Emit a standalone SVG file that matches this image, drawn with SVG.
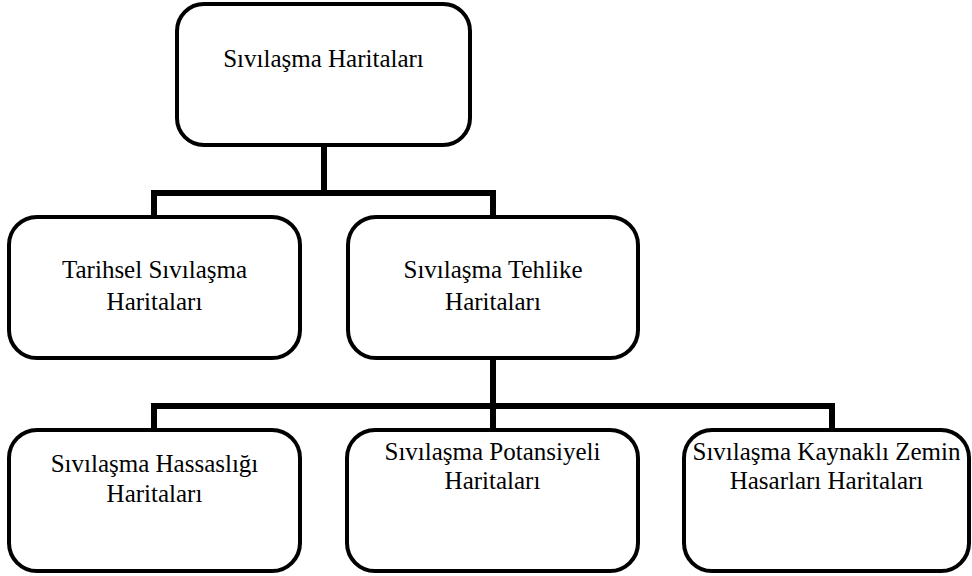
<svg xmlns="http://www.w3.org/2000/svg" width="972" height="576" viewBox="0 0 972 576">
<style>
.box{fill:#fff;stroke:#000;stroke-width:4}
.lbl{font-family:"Liberation Serif","Times New Roman",serif;font-size:25px;fill:#000;text-anchor:middle}
.conn{fill:none;stroke:#000;stroke-width:6;stroke-linejoin:miter;stroke-linecap:square}
</style>
<rect width="972" height="576" fill="#fff"/>
<g id="connectors">
<path class="conn" d="M324,147 V193 M154,216 V193 H493 V216"/>
<path class="conn" d="M493,360 V406 M154,429 V406 H832 V429 M493,406 V429"/>
</g>
<g id="n-root">
<rect class="box" x="177" y="4" width="293" height="141" rx="27"/>
<text class="lbl" x="323.5" y="67">Sıvılaşma Haritaları</text>
</g>
<g id="n-tarihsel">
<rect class="box" x="9" y="217" width="291" height="141" rx="28"/>
<text class="lbl" x="154.5" y="278">Tarihsel Sıvılaşma</text>
<text class="lbl" x="154.5" y="310">Haritaları</text>
</g>
<g id="n-tehlike">
<rect class="box" x="348" y="217" width="290" height="141" rx="28"/>
<text class="lbl" x="493" y="278">Sıvılaşma Tehlike</text>
<text class="lbl" x="493" y="310">Haritaları</text>
</g>
<g id="n-hassaslik">
<rect class="box" x="9" y="430" width="291" height="141" rx="28"/>
<text class="lbl" x="154.5" y="472">Sıvılaşma Hassaslığı</text>
<text class="lbl" x="154.5" y="502">Haritaları</text>
</g>
<g id="n-potansiyel">
<rect class="box" x="347" y="430" width="291" height="141" rx="28"/>
<text class="lbl" x="492.5" y="460">Sıvılaşma Potansiyeli</text>
<text class="lbl" x="492.5" y="489">Haritaları</text>
</g>
<g id="n-zemin">
<rect class="box" x="684" y="430" width="285" height="141" rx="28"/>
<text class="lbl" x="826.5" y="460">Sıvılaşma Kaynaklı Zemin</text>
<text class="lbl" x="826.5" y="489">Hasarları Haritaları</text>
</g>
</svg>
